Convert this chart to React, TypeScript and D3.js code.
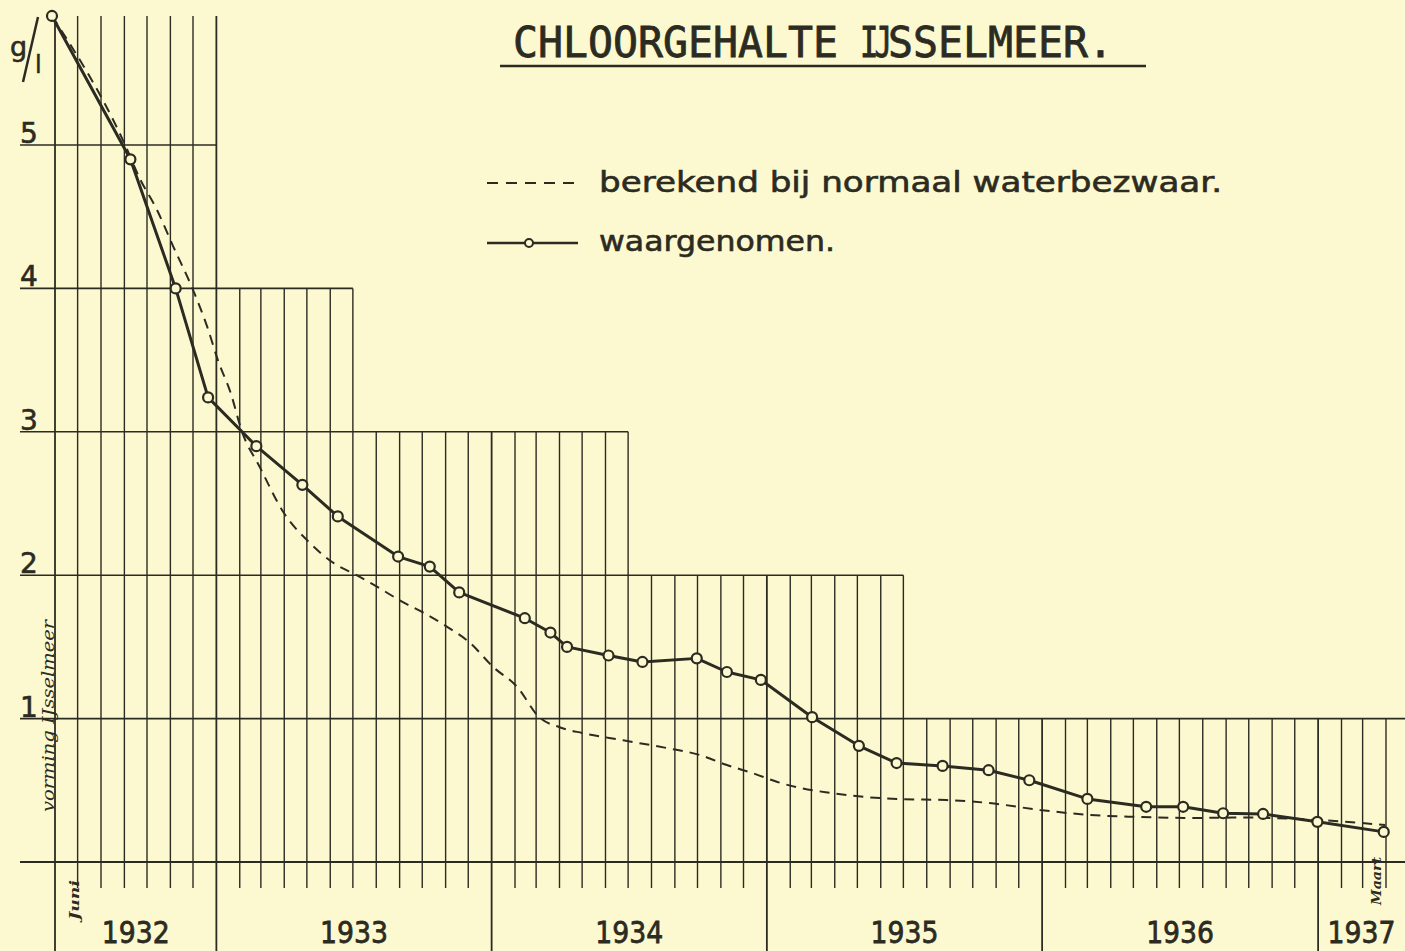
import { useEffect, useRef } from "react";
import * as d3 from "d3";

const W = 1405;
const H = 951;
const PAPER = "#fcf9d0";
const INK = "#2c2b22";

// waargenomen (observed chloride, g/l)
const observedDates = [
  "1932-05-28", "1932-09-09", "1932-11-08", "1932-12-21",
  "1933-02-23", "1933-04-25", "1933-06-11", "1933-08-30", "1933-10-11", "1933-11-19",
  "1934-02-14", "1934-03-20", "1934-04-11", "1934-06-05", "1934-07-20", "1934-09-30", "1934-11-09", "1934-12-24",
  "1935-03-02", "1935-05-03", "1935-06-22", "1935-08-22", "1935-10-22", "1935-12-15",
  "1936-03-01", "1936-05-18", "1936-07-06", "1936-08-28", "1936-10-20", "1936-12-31",
  "1937-03-29",
];
const observedValues = [
  5.9, 4.9, 4.0, 3.24,
  2.9, 2.63, 2.41, 2.13, 2.06, 1.88,
  1.7, 1.6, 1.5, 1.44, 1.395, 1.42, 1.325, 1.27,
  1.01, 0.81, 0.69, 0.67, 0.64, 0.57,
  0.44, 0.385, 0.385, 0.34, 0.335, 0.28,
  0.21,
];

// berekend bij normaal waterbezwaar (computed, g/l)
const computedDates = [
  "1932-05-28", "1932-09-02", "1932-09-22", "1932-10-14", "1932-11-05", "1932-12-01", "1932-12-20",
  "1933-01-03", "1933-01-20", "1933-02-04", "1933-02-27", "1933-04-01", "1933-05-04", "1933-06-04",
  "1933-07-06", "1933-08-02", "1933-09-06", "1933-10-02", "1933-11-03", "1933-12-03",
  "1934-01-03", "1934-02-04", "1934-03-05", "1934-04-01", "1934-05-01", "1934-06-06", "1934-07-07",
  "1934-08-21", "1934-10-04", "1934-11-09", "1934-12-13",
  "1935-01-15", "1935-02-14", "1935-03-28", "1935-05-12", "1935-06-25", "1935-08-27", "1935-10-23", "1935-12-29",
  "1936-03-04", "1936-05-09", "1936-07-15", "1936-09-24", "1936-12-31",
  "1937-03-31",
];
const computedValues = [
  5.9, 5.0, 4.76, 4.55, 4.29, 3.99, 3.73,
  3.5, 3.27, 3.0, 2.76, 2.43, 2.23, 2.09,
  2.0, 1.92, 1.81, 1.74, 1.64, 1.53,
  1.36, 1.22, 1.01, 0.94, 0.9, 0.865, 0.837,
  0.795, 0.746, 0.676, 0.62,
  0.558, 0.516, 0.481, 0.453, 0.439, 0.432, 0.411, 0.363,
  0.328, 0.314, 0.307, 0.31, 0.293,
  0.258,
];

const yTicks = [1, 2, 3, 4, 5];
const years = [1932, 1933, 1934, 1935, 1936, 1937];

// the ruled grid steps down: months up to each end date are ruled up to that level
const stepLevels = [5, 4, 3, 2];
const stepEnds = ["1933-01-01", "1933-07-01", "1934-07-01", "1935-07-01"];

const title = "CHLOORGEHALTE ĲSSELMEER.";
const legendComputed = "berekend bij normaal waterbezwaar.";
const legendObserved = "waargenomen.";

const App = () => {
  const svgRef = useRef(null);

  useEffect(() => {
    const svg = d3.select(svgRef.current);
    svg.selectAll("*").remove();

    const parse = d3.timeParse("%Y-%m-%d");
    const start = parse("1932-06-01");
    const end = parse("1937-04-01");
    const yMax = 5.9;

    const x = d3.scaleTime().domain([start, end]).range([55, 1386]);
    const y = d3.scaleLinear().domain([0, 5]).range([862, 145]);

    const ends = stepEnds.map(parse);

    svg.append("rect").attr("width", W).attr("height", H).attr("fill", PAPER);

    const grid = svg.append("g").attr("stroke", INK).attr("fill", "none");

    // horizontal rules
    const hLines = [
      ...stepLevels.map((v, i) => ({ v, x2: x(ends[i]) })),
      { v: 1, x2: W },
      { v: 0, x2: W },
    ];
    grid
      .selectAll("line.h")
      .data(hLines)
      .join("line")
      .attr("x1", 20)
      .attr("x2", (d) => d.x2)
      .attr("y1", (d) => y(d.v))
      .attr("y2", (d) => y(d.v))
      .attr("stroke-width", (d) => (d.v === 0 ? 2 : 1.6));

    // month lines
    const months = d3.timeMonth.range(start, d3.timeMonth.offset(end, 1));
    const topFor = (d) => {
      const i = ends.findIndex((e) => d <= e);
      if (i === 0) return yMax;
      if (i > 0) return stepLevels[i];
      return 1;
    };
    grid
      .selectAll("line.v")
      .data(months)
      .join("line")
      .attr("x1", (d) => x(d))
      .attr("x2", (d) => x(d))
      .attr("y1", (d) => y(topFor(d)))
      .attr("y2", (d, i) => (i === 0 || d.getMonth() === 0 ? H : 888))
      .attr("stroke-width", (d, i) => (i === 0 || d.getMonth() === 0 ? 1.8 : 1.4));

    // axis labels
    svg
      .append("g")
      .selectAll("text")
      .data(yTicks)
      .join("text")
      .attr("x", 29)
      .attr("y", (d) => y(d) - 2)
      .attr("text-anchor", "middle")
      .attr("font-family", "DejaVu Sans")
      .attr("font-size", 28)
      .attr("fill", INK)
      .attr("stroke", INK)
      .attr("stroke-width", 0.6)
      .text((d) => d);

    // unit g/l
    svg.append("text").attr("x", 10).attr("y", 56).attr("font-family", "DejaVu Sans")
      .attr("font-size", 27).attr("fill", INK).attr("stroke", INK).attr("stroke-width", 0.6).text("g");
    svg.append("line").attr("x1", 23).attr("y1", 82).attr("x2", 38).attr("y2", 17)
      .attr("stroke", INK).attr("stroke-width", 2.5);
    svg.append("text").attr("x", 35).attr("y", 73).attr("font-family", "DejaVu Sans")
      .attr("font-size", 24).attr("fill", INK).attr("stroke", INK).attr("stroke-width", 0.5).text("l");

    // year labels
    svg
      .append("g")
      .selectAll("text")
      .data(years)
      .join("text")
      .attr("x", (yr) => {
        const a = Math.max(x(new Date(yr, 0, 1)), x(start));
        const b = Math.min(x(new Date(yr + 1, 0, 1)), W);
        return (a + b) / 2;
      })
      .attr("y", 943)
      .attr("text-anchor", "middle")
      .attr("font-family", "DejaVu Sans")
      .attr("font-size", 31)
      .attr("textLength", 68)
      .attr("lengthAdjust", "spacingAndGlyphs")
      .attr("fill", INK)
      .attr("stroke", INK)
      .attr("stroke-width", 0.8)
      .text((d) => d);

    // handwritten annotations
    svg.append("text").attr("transform", "translate(54,812) rotate(-90)")
      .attr("font-family", "DejaVu Serif").attr("font-style", "italic")
      .attr("font-size", 16).attr("textLength", 192).attr("lengthAdjust", "spacingAndGlyphs")
      .attr("fill", INK).text("vorming IJsselmeer");
    svg.append("text").attr("transform", "translate(79,920) rotate(-90)")
      .attr("font-family", "DejaVu Serif").attr("font-style", "italic").attr("font-weight", "bold")
      .attr("font-size", 13).attr("textLength", 40).attr("lengthAdjust", "spacingAndGlyphs")
      .attr("fill", INK).text("Juni");
    svg.append("text").attr("transform", "translate(1381,905) rotate(-90)")
      .attr("font-family", "DejaVu Serif").attr("font-style", "italic").attr("font-weight", "bold")
      .attr("font-size", 13).attr("textLength", 48).attr("lengthAdjust", "spacingAndGlyphs")
      .attr("fill", INK).text("Maart");

    // computed (dashed)
    const computed = computedDates.map((d, i) => [parse(d), computedValues[i]]);
    svg.append("path")
      .datum(computed)
      .attr("fill", "none")
      .attr("stroke", INK)
      .attr("stroke-width", 2)
      .attr("stroke-dasharray", "10 7")
      .attr("d", d3.line().curve(d3.curveMonotoneX).x((d) => x(d[0])).y((d) => y(d[1])));

    // observed (solid with circles)
    const observed = observedDates.map((d, i) => [parse(d), observedValues[i]]);
    svg.append("path")
      .datum(observed)
      .attr("fill", "none")
      .attr("stroke", INK)
      .attr("stroke-width", 3)
      .attr("stroke-linejoin", "round")
      .attr("d", d3.line().x((d) => x(d[0])).y((d) => y(d[1])));
    svg.append("g")
      .selectAll("circle")
      .data(observed)
      .join("circle")
      .attr("cx", (d) => x(d[0]))
      .attr("cy", (d) => y(d[1]))
      .attr("r", 5)
      .attr("fill", PAPER)
      .attr("stroke", INK)
      .attr("stroke-width", 2.2);

    // title
    svg.append("text").attr("x", 513).attr("y", 57)
      .attr("font-family", "DejaVu Sans Mono").attr("font-size", 42)
      .attr("textLength", 600).attr("lengthAdjust", "spacingAndGlyphs")
      .attr("fill", INK).attr("stroke", INK).attr("stroke-width", 0.8).text(title);
    svg.append("line").attr("x1", 500).attr("x2", 1146).attr("y1", 66).attr("y2", 66)
      .attr("stroke", INK).attr("stroke-width", 2.5);

    // legend
    const legend = svg.append("g");
    legend.append("line").attr("x1", 487).attr("x2", 578).attr("y1", 183).attr("y2", 183)
      .attr("stroke", INK).attr("stroke-width", 2).attr("stroke-dasharray", "11 8");
    legend.append("text").attr("x", 599).attr("y", 192)
      .attr("font-family", "DejaVu Sans").attr("font-size", 28)
      .attr("textLength", 623).attr("lengthAdjust", "spacingAndGlyphs")
      .attr("fill", INK).attr("stroke", INK).attr("stroke-width", 0.6).text(legendComputed);
    legend.append("line").attr("x1", 487).attr("x2", 578).attr("y1", 243).attr("y2", 243)
      .attr("stroke", INK).attr("stroke-width", 2.5);
    legend.append("circle").attr("cx", 529).attr("cy", 243).attr("r", 4)
      .attr("fill", PAPER).attr("stroke", INK).attr("stroke-width", 2);
    legend.append("text").attr("x", 599).attr("y", 251)
      .attr("font-family", "DejaVu Sans").attr("font-size", 28)
      .attr("textLength", 236).attr("lengthAdjust", "spacingAndGlyphs")
      .attr("fill", INK).attr("stroke", INK).attr("stroke-width", 0.6).text(legendObserved);
  }, []);

  return (
    <svg
      ref={svgRef}
      width={W}
      height={H}
      style={{ position: "absolute", left: 0, top: 0, display: "block" }}
    />
  );
};

export default App;
